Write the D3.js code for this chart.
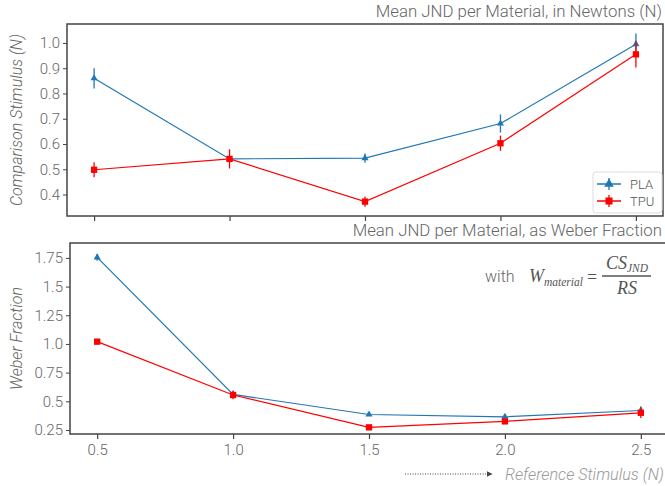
<!DOCTYPE html>
<html><head><meta charset="utf-8">
<script src="https://cdn.jsdelivr.net/npm/d3@7"></script>
<style>
body{margin:0;background:#fff;}
svg text{font-family:Roboto,"Liberation Sans",sans-serif;font-weight:300;}
</style></head>
<body><svg id="c" width="665" height="486"></svg>
<script>
const refStimulus = [0.5, 1.0, 1.5, 2.0, 2.5];
const plaJND = [0.860, 0.541, 0.544, 0.681, 0.995];
const plaJNDErr = [0.040, 0.010, 0.018, 0.036, 0.042];
const tpuJND = [0.498, 0.541, 0.372, 0.603, 0.955];
const tpuJNDErr = [0.030, 0.038, 0.020, 0.030, 0.052];
const plaWeber = [1.755, 0.560, 0.385, 0.365, 0.420];
const plaWeberErr = [0.030, 0.012, 0.010, 0.012, 0.035];
const tpuWeber = [1.020, 0.555, 0.273, 0.325, 0.400];
const tpuWeberErr = [0.022, 0.038, 0.010, 0.018, 0.045];
const topTicks = [0.4, 0.5, 0.6, 0.7, 0.8, 0.9, 1.0];
const botTicks = [0.25, 0.5, 0.75, 1.0, 1.25, 1.5, 1.75];
const xTicks = [0.5, 1.0, 1.5, 2.0, 2.5];
const seriesNames = ["PLA", "TPU"];
const colors = {PLA: "#1f77b4", TPU: "#ff0000"};

const svg = d3.select("#c");
const spineColor = "#444";
const txt = "#666";

function panel(cfg){
  const g = svg.append("g");
  const x = d3.scaleLinear().domain([0.4, 2.6]).range([cfg.left, cfg.right]);
  const y = d3.scaleLinear().domain(cfg.ydom).range([cfg.bottom, cfg.top]);
  const ya = g.append("g").attr("transform", `translate(${cfg.left},0)`)
    .call(d3.axisLeft(y).tickValues(cfg.yticks).tickFormat(cfg.yfmt).tickSizeOuter(0).tickSize(4).tickPadding(3));
  ya.select(".domain").remove();
  ya.selectAll("line").attr("stroke", spineColor).attr("stroke-width", 1);
  ya.selectAll("text").attr("fill", txt).style("font-size", "15px");
  const xa = g.append("g").attr("transform", `translate(0,${cfg.bottom})`)
    .call(d3.axisBottom(x).tickValues(xTicks).tickFormat(cfg.showX ? d3.format(".1f") : "").tickSizeOuter(0).tickSize(5).tickPadding(5));
  xa.select(".domain").remove();
  xa.selectAll("line").attr("stroke", spineColor).attr("stroke-width", 1.2);
  xa.selectAll("text").attr("fill", txt).style("font-size", "15px");
  g.append("rect").attr("x", cfg.left).attr("y", cfg.top).attr("width", cfg.right - cfg.left).attr("height", cfg.bottom - cfg.top)
    .attr("fill", "none").attr("stroke", spineColor).attr("stroke-width", 1.5);
  const series = [
    {name: "PLA", v: cfg.pla, e: cfg.plaErr},
    {name: "TPU", v: cfg.tpu, e: cfg.tpuErr}
  ];
  series.forEach(s => {
    const col = colors[s.name];
    const pts = refStimulus.map((r, i) => ({x: r, y: s.v[i], e: s.e[i]}));
    g.append("path").datum(pts).attr("fill", "none").attr("stroke", col).attr("stroke-width", 1.2)
      .attr("d", d3.line().x(d => x(d.x)).y(d => y(d.y)));
    g.selectAll(null).data(pts).enter().append("line")
      .attr("x1", d => x(d.x)).attr("x2", d => x(d.x))
      .attr("y1", d => y(d.y - d.e)).attr("y2", d => y(d.y + d.e))
      .attr("stroke", col).attr("stroke-width", 1.3);
    const sym = s.name === "PLA" ? d3.symbolTriangle : d3.symbolSquare;
    const sz = s.name === "PLA" ? 22 : 40;
    g.selectAll(null).data(pts).enter().append("path")
      .attr("transform", d => `translate(${x(d.x)},${y(d.y)})`)
      .attr("d", d3.symbol().type(sym).size(sz)).attr("fill", col);
  });
  svg.append("text").attr("x", 662).attr("y", cfg.top - 7).attr("text-anchor", "end")
    .attr("fill", "#666").style("font-size", "16.8px").text(cfg.title);
  svg.append("text").attr("transform", `translate(${cfg.ylx},${(cfg.top + cfg.bottom) / 2}) rotate(-90)`)
    .attr("text-anchor", "middle").attr("fill", txt).style("font-size", "16px").style("font-style", "italic").text(cfg.ylabel);
  return {g, x, y};
}

const topPanel = panel({left: 67, right: 663, top: 24, bottom: 216, ydom: [0.315, 1.075], yticks: topTicks,
  yfmt: d3.format(".1f"), showX: false, pla: plaJND, plaErr: plaJNDErr, tpu: tpuJND, tpuErr: tpuJNDErr,
  title: "Mean JND per Material, in Newtons (N)", ylabel: "Comparison Stimulus (N)", ylx: 22});

const botPanel = panel({left: 70, right: 668, top: 243, bottom: 434, ydom: [0.215, 1.88], yticks: botTicks,
  yfmt: d => (d === 1 ? "1.0" : d === 0.5 ? "0.5" : d === 1.5 ? "1.5" : String(d)), showX: true,
  pla: plaWeber, plaErr: plaWeberErr, tpu: tpuWeber, tpuErr: tpuWeberErr,
  title: "Mean JND per Material, as Weber Fraction", ylabel: "Weber Fraction", ylx: 22});

const lg = svg.append("g").attr("transform", "translate(593,172)");
lg.append("rect").attr("width", 69).attr("height", 41).attr("rx", 3).attr("fill", "#fff").attr("stroke", "#ddd");
seriesNames.forEach((n, i) => {
  const yy = 12 + i * 17;
  const col = colors[n];
  lg.append("line").attr("x1", 4).attr("x2", 28).attr("y1", yy).attr("y2", yy).attr("stroke", col).attr("stroke-width", 1.5);
  lg.append("line").attr("x1", 16).attr("x2", 16).attr("y1", yy - 6).attr("y2", yy + 6).attr("stroke", col).attr("stroke-width", 1.3);
  lg.append("path").attr("transform", `translate(16,${yy})`)
    .attr("d", d3.symbol().type(n === "PLA" ? d3.symbolTriangle : d3.symbolSquare).size(n === "PLA" ? 40 : 50)).attr("fill", col);
  lg.append("text").attr("x", 37).attr("y", yy + 5).attr("fill", "#555").style("font-size", "13px").text(n);
});

const fm = svg.append("g");
const serif = "'Liberation Serif','DejaVu Serif',serif";
fm.append("text").attr("x", 485).attr("y", 282).attr("fill", "#666").style("font-size", "16px").text("with");
const wt = fm.append("text").attr("x", 529).attr("y", 282).attr("fill", "#555").style("font-family", serif)
  .style("font-style", "italic").style("font-weight", "400").style("font-size", "18px");
wt.append("tspan").text("W");
wt.append("tspan").attr("dy", 4).style("font-size", "11.5px").text("material");
fm.append("text").attr("x", 587).attr("y", 283).attr("fill", "#555").style("font-family", serif).style("font-weight", "400").style("font-size", "18px").text("=");
fm.append("line").attr("x1", 602).attr("x2", 651).attr("y1", 276).attr("y2", 276).attr("stroke", "#555").attr("stroke-width", 1.3);
const num = fm.append("text").attr("x", 606).attr("y", 269).attr("fill", "#555").style("font-family", serif)
  .style("font-style", "italic").style("font-weight", "400").style("font-size", "18px");
num.append("tspan").text("CS");
num.append("tspan").attr("dy", 3).style("font-size", "11.5px").text("JND");
fm.append("text").attr("x", 627).attr("y", 294).attr("text-anchor", "middle").attr("fill", "#555").style("font-family", serif)
  .style("font-style", "italic").style("font-weight", "400").style("font-size", "18px").text("RS");

svg.append("defs").append("marker").attr("id", "ah").attr("viewBox", "0 0 10 10").attr("refX", 9).attr("refY", 5)
  .attr("markerWidth", 6).attr("markerHeight", 6).attr("orient", "auto")
  .append("path").attr("d", "M0,0L10,5L0,10z").attr("fill", "#444");
svg.append("line").attr("x1", 405).attr("x2", 492).attr("y1", 474).attr("y2", 474).attr("stroke", "#444")
  .attr("stroke-width", 1).attr("stroke-dasharray", "1,1.5").attr("marker-end", "url(#ah)");
svg.append("text").attr("x", 505).attr("y", 480).attr("fill", "#999").style("font-size", "16.2px").style("font-style", "italic")
  .text("Reference Stimulus (N)");
</script></body></html>
